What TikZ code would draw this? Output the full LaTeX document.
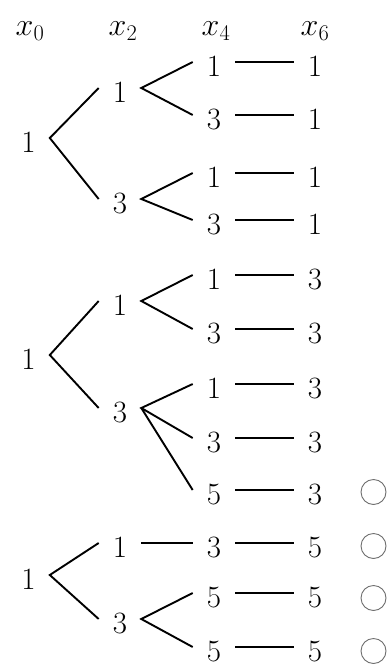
\RequirePackage{fix-cm}
\documentclass[tikz,border=0pt]{standalone}
\usepackage{amsmath,amssymb}
\usepackage{xcolor}
\usepackage{tikz}
\usetikzlibrary{positioning}
\definecolor{ringgray}{RGB}{110,110,110}

\begin{document}
\begin{tikzpicture}[x=1pt,y=-1pt,
		num/.style={inner xsep=14pt,inner ysep=0pt,text height=29pt,text depth=0pt,font=\fontsize{31}{35}\selectfont},
		head/.style={inner sep=0pt,font=\fontsize{32}{36}\selectfont},
		link/.style={line width=1.9pt},
		okring/.style={circle,draw=ringgray,line width=0.9pt,minimum size=25pt,inner sep=0pt}]
			\useasboundingbox (0,0) rectangle (388,664);
			
			\node[head] (h0) at (30,31) {$x_0$};
			\node[head] (h2) at (123,31) {$x_2$};
			\node[head] (h4) at (216,31) {$x_4$};
			\node[head] (h6) at (315,31) {$x_6$};
			
			% first tree
			\node[num] (p1) at (28.5,138) {1};
			\node[num] (q1) at (120,88) {1};
			\node[num] (q2) at (120,199) {3};
			\node[num] (s1) at (214,62) {1};
			\node[num] (s2) at (214,115) {3};
			\node[num] (s3) at (214,173) {1};
			\node[num] (s4) at (214,220) {3};
			\node[num] (t1) at (315,62) {1};
			\node[num] (t2) at (315,115) {1};
			\node[num] (t3) at (315,173) {1};
			\node[num] (t4) at (315,220) {1};
			\draw[link] (q1.west) -- (p1.east) -- (q2.west);
			\draw[link] (s1.west) -- (q1.east) -- (s2.west);
			\draw[link] (s3.west) -- (q2.east) -- (s4.west);
			\draw[link] (s1) -- (t1);
			\draw[link] (s2) -- (t2);
			\draw[link] (s3) -- (t3);
			\draw[link] (s4) -- (t4);
			
			% second tree
			\node[num] (p2) at (28.5,355) {1};
			\node[num] (q3) at (120,301) {1};
			\node[num] (q4) at (120,408) {3};
			\node[num] (s5) at (214,275) {1};
			\node[num] (s6) at (214,329) {3};
			\node[num] (s7) at (214,384) {1};
			\node[num] (s8) at (214,438) {3};
			\node[num] (s9) at (214,490) {5};
			\node[num] (t5) at (315,275) {3};
			\node[num] (t6) at (315,329) {3};
			\node[num] (t7) at (315,384) {3};
			\node[num] (t8) at (315,438) {3};
			\node[num] (t9) at (315,490) {3};
			\draw[link] (q3.west) -- (p2.east) -- (q4.west);
			\draw[link] (s5.west) -- (q3.east) -- (s6.west);
			\draw[link] (s7.west) -- (q4.east) -- (s8.west);
			\draw[link] (q4.east) -- (s9.west);
			\draw[link] (s5) -- (t5);
			\draw[link] (s6) -- (t6);
			\draw[link] (s7) -- (t7);
			\draw[link] (s8) -- (t8);
			\draw[link] (s9) -- (t9);
			
			% third tree
			\node[num] (p3) at (28.5,575) {1};
			\node[num] (q5) at (120,543) {1};
			\node[num] (q6) at (120,619) {3};
			\node[num] (s10) at (214,543) {3};
			\node[num] (s11) at (214,593) {5};
			\node[num] (s12) at (214,647) {5};
			\node[num] (t10) at (315,543) {5};
			\node[num] (t11) at (315,593) {5};
			\node[num] (t12) at (315,647) {5};
			\draw[link] (q5.west) -- (p3.east) -- (q6.west);
			\draw[link] (q5) -- (s10);
			\draw[link] (s11.west) -- (q6.east) -- (s12.west);
			\draw[link] (s10) -- (t10);
			\draw[link] (s11) -- (t11);
			\draw[link] (s12) -- (t12);
			
			\node[okring] (c9) at (373.5,492) {};
			\node[okring] (c10) at (373.5,546) {};
			\node[okring] (c11) at (373.5,598) {};
			\node[okring] (c12) at (373.5,651) {};
			
		\end{tikzpicture}
\end{document}
